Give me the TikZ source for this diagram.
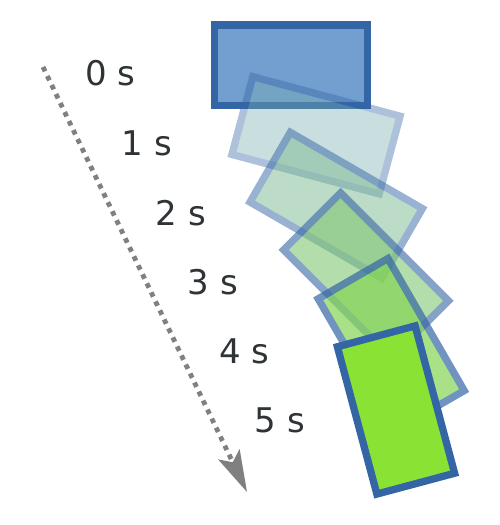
\documentclass[tikz,border=0pt]{standalone}
\usepackage{fontspec}
\setmainfont{DejaVu Sans}
\usetikzlibrary{arrows.meta}
\definecolor{bfill}{HTML}{729FCF}
\definecolor{gfill}{HTML}{8AE234}
\definecolor{bstroke}{HTML}{3465A4}
\definecolor{txt}{HTML}{2E3436}
\definecolor{arrowgray}{HTML}{808080}
\colorlet{f1}{gfill!20!bfill}
\colorlet{f2}{gfill!40!bfill}
\colorlet{f3}{gfill!60!bfill}
\colorlet{f4}{gfill!80!bfill}
\tikzset{
  box/.style={draw=bstroke, line width=7.3pt, rectangle, inner sep=0pt, outer sep=0pt,
    minimum width=152.5pt, minimum height=80.5pt, line join=miter},
  lbl/.style={text=txt, font=\fontsize{34}{40}\selectfont, inner sep=0pt, anchor=base},
  timearrow/.style={draw=arrowgray, line width=4.8pt, dash pattern=on 4.8pt off 5.2pt,
    -{Stealth[length=42pt, width=24pt, inset=9pt, line width=0pt]}}
}
\begin{document}
\begin{tikzpicture}[x=1pt, y=-1pt]
\path[use as bounding box] (0,0) rectangle (500,525);
% time arrow
\coordinate (a) at (43,67);
\coordinate (b) at (247,492);
\draw[timearrow] (a) -- (b);
% labels
\node[lbl] (t0) at (110.5,85) {0 s};
\node[lbl] (t1) at (147,155) {1 s};
\node[lbl] (t2) at (181,225) {2 s};
\node[lbl] (t3) at (213,294.5) {3 s};
\node[lbl] (t4) at (244.5,363) {4 s};
\node[lbl] (t5) at (280,432) {5 s};
% rectangles
\node[box, fill=bfill] (r0) at (291,65.2) {};
\begin{scope}[transparency group, opacity=0.4]
\node[box, fill=f1, rotate=-15] (r1) at (316,135.3) {};
\end{scope}
\begin{scope}[transparency group, opacity=0.5]
\node[box, fill=f2, rotate=-30] (r2) at (336.2,205.3) {};
\end{scope}
\begin{scope}[transparency group, opacity=0.6]
\node[box, fill=f3, rotate=-45] (r3) at (366,275.3) {};
\end{scope}
\begin{scope}[transparency group, opacity=0.7]
\node[box, fill=f4, rotate=-60] (r4) at (391.2,344.7) {};
\end{scope}
\node[box, fill=gfill, rotate=-75] (r5) at (396,410) {};
\end{tikzpicture}
\end{document}
